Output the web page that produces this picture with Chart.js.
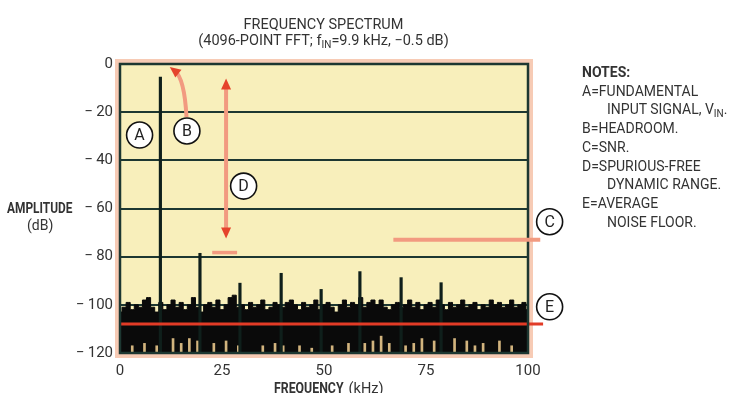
<!DOCTYPE html>
<html>
<head>
<meta charset="utf-8">
<script src="https://cdn.jsdelivr.net/npm/chart.js@4.4.1/dist/chart.umd.min.js"></script>
<style>
  html, body { margin: 0; padding: 0; background: #fff; }
  #wrap { position: relative; width: 743px; height: 393px; overflow: hidden; font-family: Roboto, "Liberation Sans", sans-serif; color: #333; }
  #chart { position: absolute; left: 0; top: 0; }
  .txt { position: absolute; white-space: nowrap; }
  .title { left: 0; width: 647px; top: 17px; text-align: center; font-size: 14.5px; line-height: 16px; }
  .narrow { font-weight: bold; display: inline-block; transform: scaleX(0.85); transform-origin: left center; }
  sub { font-size: 10px; vertical-align: -3px; line-height: 0; }
  .notes { left: 582px; top: 63px; font-size: 14px; line-height: 18.7px; }
  .notes .ind { padding-left: 25px; }
</style>
</head>
<body>
<div id="wrap">
  <canvas id="chart" width="743" height="393"></canvas>
  <div class="txt title">FREQUENCY SPECTRUM<br>(4096-POINT FFT; f<sub>IN</sub>=9.9 kHz, &minus;0.5 dB)</div>
  <div class="txt" style="left:7px;top:200px;font-size:14px;"><span class="narrow">AMPLITUDE</span></div>
  <div class="txt" style="left:27px;top:217px;font-size:14px;">(dB)</div>
  <div class="txt" style="left:274px;top:380px;font-size:14.5px;"><span class="narrow" style="width:71px;">FREQUENCY</span> (kHz)</div>
  <div class="txt notes">
    <div style="font-weight:bold;">NOTES:</div>
    <div>A=FUNDAMENTAL</div>
    <div class="ind">INPUT SIGNAL, V<sub>IN</sub>.</div>
    <div>B=HEADROOM.</div>
    <div>C=SNR.</div>
    <div>D=SPURIOUS-FREE</div>
    <div class="ind">DYNAMIC RANGE.</div>
    <div>E=AVERAGE</div>
    <div class="ind">NOISE FLOOR.</div>
  </div>
</div>
<script>
// axis ticks
const freqTicks = [0, 25, 50, 75, 100];
const dbTicks = [0, -20, -40, -60, -80, -100, -120];

// fundamental + harmonic spurs (kHz, dB)
const spikeFreq = [9.9, 19.6, 29.4, 39.5, 49.3, 58.8, 68.9, 78.7];
const spikeDb = [-5.4, -78.6, -91, -86.9, -93.6, -86.2, -88.7, -90.8];

// noise tops, one bin per kHz from 0 to 100
const noiseDb = [
  -103, -101, -99, -102, -100, -101, -98, -97, -101, -103,
  -99, -102, -100, -98, -101, -99, -102, -100, -97, -101,
  -103, -100, -99, -101, -98, -102, -100, -97, -96, -101,
  -100, -102, -99, -101, -100, -98, -102, -101, -99, -100,
  -101, -99, -98, -100, -102, -99, -101, -100, -98, -102,
  -100, -99, -101, -103, -100, -98, -101, -99, -100, -97,
  -101, -99, -98, -100, -98, -101, -102, -100, -99, -101,
  -100, -98, -101, -99, -102, -100, -99, -101, -98, -100,
  -102, -99, -101, -100, -98, -101, -100, -99, -102, -100,
  -101, -98, -100, -99, -101, -100, -98, -101, -100, -99, -102
];

// light streaks at the bottom of the noise
const streakFreq = [3, 6, 9, 13, 15, 17, 19, 23, 26, 29, 35, 38, 40, 44, 47, 52, 56, 60, 62, 64, 66, 70, 72, 74, 77, 82, 85, 87, 89, 93, 96];
const streakDb = [-117, -116, -117, -114, -116, -114, -115, -116, -115, -117, -117, -116, -117, -117, -118, -117, -116, -116, -115, -113, -116, -117, -116, -114, -115, -114, -115, -117, -116, -115, -117];

const avgNoiseDb = -108;

const teal = '#1d3731';

const panelPlugin = {
  id: 'panel',
  beforeDraw(chart) {
    const { ctx, chartArea: a } = chart;
    ctx.save();
    ctx.strokeStyle = 'rgba(240,160,120,0.55)';
    ctx.lineWidth = 4;
    ctx.strokeRect(a.left - 3, a.top - 3, a.right - a.left + 6, a.bottom - a.top + 6);
    ctx.fillStyle = '#f8efbb';
    ctx.fillRect(a.left, a.top, a.right - a.left, a.bottom - a.top);
    ctx.restore();
  },
  afterDatasetsDraw(chart) {
    const { ctx, chartArea: a, scales: { x, y } } = chart;
    ctx.save();
    ctx.strokeStyle = teal;
    ctx.lineWidth = 2.5;
    ctx.strokeRect(a.left, a.top, a.right - a.left, a.bottom - a.top);

    const red = '#e5432c';
    const salmon = '#f29a80';
    const head = (tx, ty, ang) => {
      ctx.save();
      ctx.translate(tx, ty);
      ctx.rotate(ang);
      ctx.fillStyle = red;
      ctx.beginPath();
      ctx.moveTo(0, 0);
      ctx.lineTo(-11, -5);
      ctx.lineTo(-11, 5);
      ctx.closePath();
      ctx.fill();
      ctx.restore();
    };

    // D: spurious-free dynamic range arrow
    const dx = x.getPixelForValue(26);
    const dTop = y.getPixelForValue(-6);
    const dBot = y.getPixelForValue(-72.5);
    ctx.strokeStyle = salmon;
    ctx.lineWidth = 4;
    ctx.beginPath();
    ctx.moveTo(dx, dTop + 8);
    ctx.lineTo(dx, dBot - 8);
    ctx.stroke();
    head(dx, dTop, -Math.PI / 2);
    head(dx, dBot, Math.PI / 2);
    // dash at highest spur level
    ctx.lineWidth = 3.5;
    ctx.beginPath();
    ctx.moveTo(x.getPixelForValue(22.6), y.getPixelForValue(-78.3));
    ctx.lineTo(x.getPixelForValue(28.7), y.getPixelForValue(-78.3));
    ctx.stroke();

    // C: SNR line
    ctx.lineWidth = 4;
    ctx.beginPath();
    ctx.moveTo(x.getPixelForValue(67), y.getPixelForValue(-73));
    ctx.lineTo(x.getPixelForValue(103), y.getPixelForValue(-73));
    ctx.stroke();

    // B: headroom curved arrow
    const bx0 = x.getPixelForValue(16.3), by0 = y.getPixelForValue(-22);
    const bcx = x.getPixelForValue(15.8), bcy = y.getPixelForValue(-6);
    const bx1 = x.getPixelForValue(12.2), by1 = y.getPixelForValue(-1.2);
    ctx.lineWidth = 4;
    ctx.beginPath();
    ctx.moveTo(bx0, by0);
    ctx.quadraticCurveTo(bcx, bcy, bx1 + 5, by1 + 4);
    ctx.stroke();
    head(bx1, by1, Math.atan2(by1 - bcy, bx1 - bcx));

    // circled letters
    const marks = [['A', 4.8, -29.5], ['B', 16.4, -27.8], ['D', 30.3, -50.7], ['C', 105.3, -65.5], ['E', 105.3, -100.8]];
    ctx.font = '16px Roboto, "Liberation Sans", sans-serif';
    ctx.textAlign = 'center';
    ctx.textBaseline = 'middle';
    marks.forEach(([t, fx, fy]) => {
      const px = x.getPixelForValue(fx), py = y.getPixelForValue(fy);
      ctx.beginPath();
      ctx.arc(px, py, 13, 0, Math.PI * 2);
      ctx.fillStyle = '#fff';
      ctx.fill();
      ctx.lineWidth = 1.6;
      ctx.strokeStyle = '#111';
      ctx.stroke();
      ctx.fillStyle = '#222';
      ctx.fillText(t, px, py + 1);
    });
    ctx.restore();
  }
};

new Chart(document.getElementById('chart'), {
  type: 'line',
  data: {
    datasets: [
      {
        type: 'line',
        label: 'Average noise floor',
        data: [{ x: 0, y: avgNoiseDb }, { x: 103.7, y: avgNoiseDb }],
        borderColor: '#e23b26',
        borderWidth: 3,
        pointRadius: 0,
        clip: false,
        order: 0
      },
      {
        type: 'bar',
        label: 'Spurs',
        data: spikeFreq.map((f, i) => ({ x: f, y: [-120, spikeDb[i]] })),
        backgroundColor: '#0f1f1b',
        barThickness: 2.5,
        grouped: false,
        order: 1
      },
      {
        type: 'bar',
        label: 'Streaks',
        data: streakFreq.map((f, i) => ({ x: f, y: [-119.5, streakDb[i]] })),
        backgroundColor: '#d2b47e',
        barThickness: 2,
        grouped: false,
        order: 2
      },
      {
        type: 'line',
        label: 'Noise',
        data: noiseDb.map((v, i) => ({ x: i, y: v })),
        borderColor: '#0a0a0a',
        borderWidth: 1,
        backgroundColor: '#0a0a0a',
        fill: 'start',
        stepped: 'middle',
        pointRadius: 0,
        order: 3
      }
    ]
  },
  options: {
    responsive: false,
    animation: false,
    layout: { padding: { left: 0, right: 215, top: 64, bottom: 0 } },
    plugins: { legend: { display: false }, tooltip: { enabled: false } },
    scales: {
      x: {
        type: 'linear',
        offset: false,
        min: 0,
        max: 100,
        afterBuildTicks: s => { s.ticks = freqTicks.map(v => ({ value: v })); },
        afterFit: s => { s.height = 40; },
        grid: { display: false, drawTicks: false, offset: false },
        border: { display: false },
        ticks: { padding: 9, color: '#333', font: { family: 'Roboto', size: 15 } }
      },
      y: {
        min: -120,
        max: 0,
        afterBuildTicks: s => { s.ticks = dbTicks.map(v => ({ value: v })); },
        afterFit: s => { s.width = 120; },
        grid: { color: teal, lineWidth: 2, drawTicks: false },
        border: { display: false },
        ticks: {
          padding: 7,
          color: '#333',
          font: { family: 'Roboto', size: 15 },
          callback: v => (v === 0 ? '0' : '\u2212\u2009' + Math.abs(v))
        }
      }
    }
  },
  plugins: [panelPlugin]
});
</script>
</body>
</html>
